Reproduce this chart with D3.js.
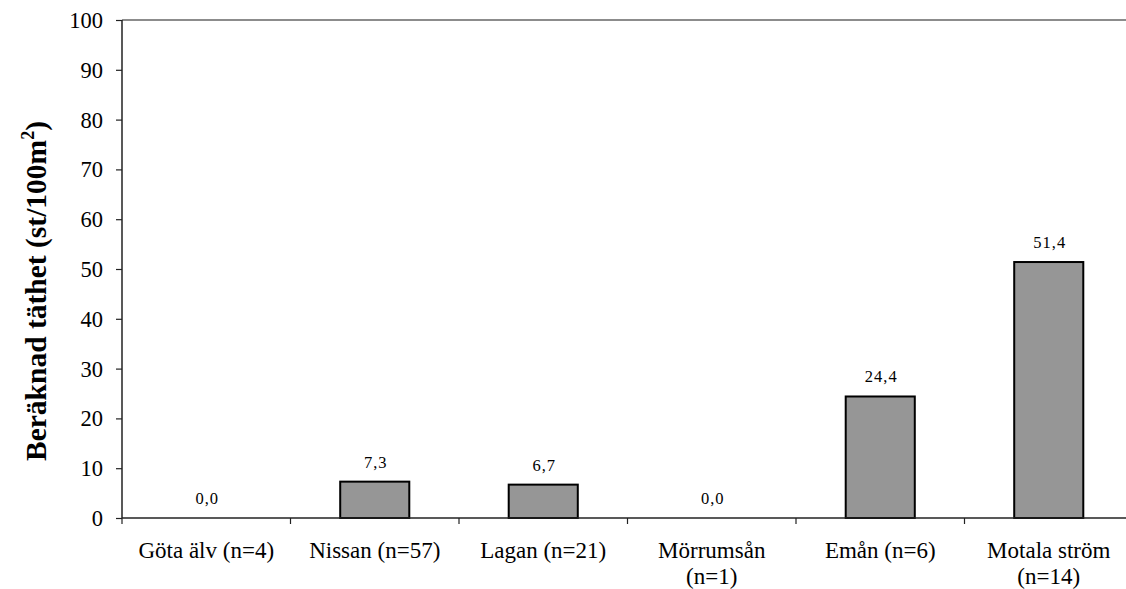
<!DOCTYPE html>
<html><head><meta charset="utf-8">
<script src="https://cdn.jsdelivr.net/npm/d3@7/dist/d3.min.js"></script>
<style>body{margin:0;background:#fff}svg{display:block}</style>
</head><body>
<svg id="c" width="1126" height="589"></svg>
<script>
const categories = [["Göta älv (n=4)"],["Nissan (n=57)"],["Lagan (n=21)"],["Mörrumsån","(n=1)"],["Emån (n=6)"],["Motala ström","(n=14)"]];
const values = [0.0, 7.3, 6.7, 0.0, 24.4, 51.4];
const yTicks = [0,10,20,30,40,50,60,70,80,90,100];

const svg = d3.select("#c");
const m = {l:122, t:20, r:1133, b:518};
const x = d3.scaleBand().domain(d3.range(categories.length)).range([m.l, m.r]).paddingInner(0).paddingOuter(0);
const y = d3.scaleLinear().domain([0,100]).range([m.b, m.t]);
const font = "'Liberation Serif','Times New Roman',serif";

// top border line
svg.append("line").attr("x1", m.l).attr("x2", 1126).attr("y1", y(100)).attr("y2", y(100))
  .attr("stroke", "#8c8c8c").attr("stroke-width", 2);

// bars
const bw = x.bandwidth()*0.41;
svg.selectAll("rect.bar").data(values).join("rect")
  .attr("x", (d,i)=> x(i)+x.bandwidth()/2 - bw/2)
  .attr("y", d=> y(d)).attr("width", bw).attr("height", d=> y(0)-y(d))
  .attr("fill", "#969696").attr("stroke", "#000").attr("stroke-width", 2)
  .attr("display", d=> d>0 ? null : "none");

// value labels
svg.selectAll("text.val").data(values).join("text")
  .attr("x", (d,i)=> x(i)+x.bandwidth()/2+1).attr("y", d=> y(d)-14)
  .attr("text-anchor", "middle").attr("font-family", font).attr("font-size", 16.5)
  .attr("letter-spacing", 1)
  .text(d=> d.toFixed(1).replace(".", ","));

// y axis
const ya = svg.append("g").attr("transform", `translate(${m.l},0)`)
  .call(d3.axisLeft(y).tickValues(yTicks).tickSize(6).tickPadding(13).tickFormat(d3.format("d")));
ya.select(".domain").attr("stroke", "#222").attr("stroke-width", 1.5).attr("d", `M-0,${m.t}V${m.b}`);
ya.selectAll(".tick line").attr("stroke", "#222").attr("stroke-width", 1.2);
ya.selectAll(".tick text").attr("font-family", font).attr("font-size", 22.5).attr("fill", "#000").attr("dy", "0.33em");

// x axis baseline
svg.append("line").attr("x1", m.l).attr("x2", 1126).attr("y1", y(0)).attr("y2", y(0))
  .attr("stroke", "#222").attr("stroke-width", 1.5);
// x ticks at boundaries
const bounds = d3.range(categories.length+1).map(i=> m.l + i*x.step());
svg.selectAll("line.xt").data(bounds).join("line")
  .attr("x1", d=>d).attr("x2", d=>d).attr("y1", y(0)).attr("y2", y(0)+6)
  .attr("stroke", "#222").attr("stroke-width", 1.2);

// category labels
const cl = svg.selectAll("text.cat").data(categories).join("text")
  .attr("text-anchor", "middle").attr("font-family", font).attr("font-size", 23);
cl.each(function(lines, i){
  const t = d3.select(this);
  lines.forEach((s, k)=>{
    t.append("tspan").attr("x", x(i)+x.bandwidth()/2).attr("y", 558 + k*26).text(s);
  });
});

// y title
const yt = svg.append("text").attr("transform", "translate(46,291) rotate(-90)")
  .attr("text-anchor", "middle").attr("font-family", font).attr("font-size", 29.5)
  .attr("font-weight", "bold");
yt.append("tspan").text("Beräknad täthet (st/100m");
yt.append("tspan").attr("font-size", 18).attr("dy", -12).text("2");
yt.append("tspan").attr("dy", 12).text(")");
</script>
</body></html>
